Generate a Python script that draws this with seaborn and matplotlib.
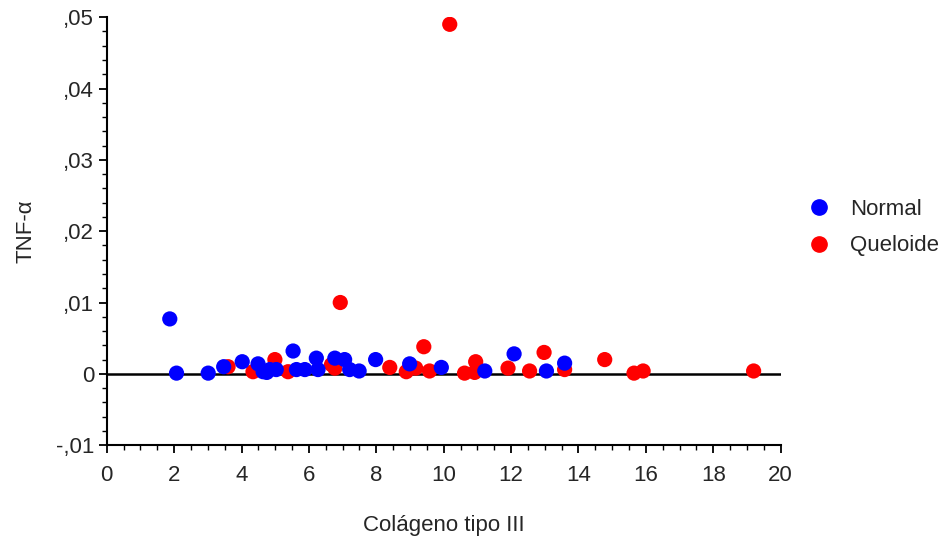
import numpy as np
import pandas as pd
import matplotlib
matplotlib.use('Agg')
import matplotlib.pyplot as plt
import seaborn as sns
from matplotlib.ticker import MultipleLocator, FuncFormatter

# valores
normal_x = [1.87, 2.07, 3.01, 3.47, 4.02, 4.49, 4.64, 4.84, 5.03, 4.75, 5.53, 5.63, 5.88, 6.22, 6.27,
            6.77, 7.06, 7.21, 7.49, 7.98, 8.99, 9.93, 11.22, 12.09, 13.05, 13.59]
normal_y = [0.0077, 0.0001, 0.0001, 0.0010, 0.0017, 0.0014, 0.0003, 0.0006, 0.0006, 0.0002, 0.0032, 0.0006,
            0.0006, 0.0022, 0.0006, 0.0022, 0.0020, 0.0006, 0.0004, 0.0020, 0.0014, 0.0009, 0.0004,
            0.0028, 0.0004, 0.0015]

queloide_x = [3.60, 4.34, 4.99, 5.38, 6.67, 6.77, 6.93, 8.40, 8.89, 9.17, 9.41, 9.58, 10.18, 10.62,
              10.92, 10.95, 11.91, 12.55, 12.98, 13.59, 14.78, 15.65, 15.92, 19.20]
queloide_y = [0.0010, 0.0003, 0.0020, 0.0003, 0.0013, 0.0008, 0.0100, 0.0009, 0.0003, 0.0008, 0.0038,
              0.0004, 0.0490, 0.0001, 0.0002, 0.0017, 0.0008, 0.0004, 0.0030, 0.0006, 0.0020, 0.0001,
              0.0004, 0.0004]

df = pd.DataFrame({
    'x': queloide_x + normal_x,
    'y': queloide_y + normal_y,
    'grupo': ['Queloide'] * len(queloide_x) + ['Normal'] * len(normal_x),
})

sns.set_style('white')
plt.rcParams['font.family'] = ['Liberation Sans', 'DejaVu Sans']

fig = plt.figure(figsize=(9.45, 5.37), dpi=100)
ax = fig.add_axes([0.113, 0.171, 0.713, 0.797])

ax.axhline(0, color='black', lw=1.8, zorder=1)
sns.scatterplot(data=df, x='x', y='y', hue='grupo', palette={'Normal': '#0000ff', 'Queloide': '#ff0000'},
                s=120, edgecolor='none', ax=ax, zorder=3, legend=False)

ax.set_xlim(0, 20)
ax.set_ylim(-0.01, 0.05)
ax.xaxis.set_major_locator(MultipleLocator(2))
ax.xaxis.set_minor_locator(MultipleLocator(0.5))
ax.yaxis.set_major_locator(MultipleLocator(0.01))
ax.yaxis.set_minor_locator(MultipleLocator(0.002))


def fmt(v, pos):
    if abs(v) < 1e-9:
        return '0'
    s = '%.2f' % v
    return s.replace('0.', ',')


ax.yaxis.set_major_formatter(FuncFormatter(fmt))
ax.tick_params(axis='both', which='major', length=6, width=1.3, color='black', labelsize=16, direction='out',
               left=True, bottom=True)
ax.tick_params(axis='both', which='minor', length=3.5, width=1.0, color='black', direction='out',
               left=True, bottom=True)
ax.tick_params(axis='x', pad=8)
ax.tick_params(axis='y', pad=3)

for side in ['top', 'right']:
    ax.spines[side].set_visible(False)
for side in ['left', 'bottom']:
    ax.spines[side].set_color('black')
    ax.spines[side].set_linewidth(1.5)

ax.set_xlabel('Colágeno tipo III', fontsize=16, labelpad=21)
ax.set_ylabel('TNF-α', fontsize=16, labelpad=14)

# legenda
handles = [plt.Line2D([], [], marker='o', ls='', color='#0000ff', markersize=11),
           plt.Line2D([], [], marker='o', ls='', color='#ff0000', markersize=11)]
fig.legend(handles, ['Normal', 'Queloide'], loc='center left', bbox_to_anchor=(0.834, 0.576),
           frameon=False, fontsize=16, handletextpad=0.9, labelspacing=0.7, handlelength=1.0)

fig.savefig('out.png', dpi=100)
